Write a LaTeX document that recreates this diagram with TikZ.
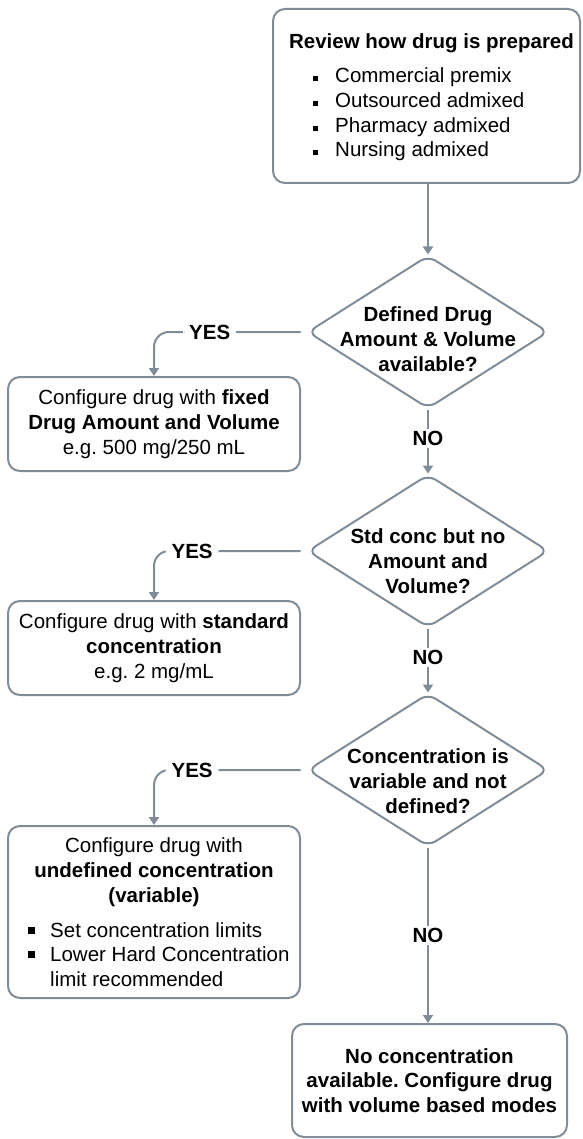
\documentclass[tikz,border=0pt]{standalone}
\usepackage{fontspec}
\setmainfont{Liberation Sans}
\usetikzlibrary{arrows.meta,shapes.geometric}
\definecolor{lc}{RGB}{128,141,153}
\newcommand\sqbA{\makebox[22pt][l]{\rule[1.5pt]{5pt}{5pt}}}
\newcommand\sqbB{\makebox[22pt][l]{\rule[3.5pt]{7pt}{7pt}}}
\newcommand\fsz{\fontsize{20.5pt}{24.7pt}\selectfont\frenchspacing}
\begin{document}
\begin{tikzpicture}[x=1pt,y=-1pt,
  every node/.style={font=\fsz, text=black},
  boxst/.style={draw=lc, line width=2pt, rounded corners=12pt, fill=white, inner sep=2pt, align=center},
  diast/.style={draw=lc, line width=2pt, diamond, rounded corners=9pt, minimum width=241pt, minimum height=153pt, inner sep=0pt},
  conn/.style={draw=lc, line width=2pt, -{Triangle[length=8pt,width=10pt]}},
  lbl/.style={fill=white, font=\fsz\bfseries, inner xsep=6pt, inner ysep=2pt},
  dtxt/.style={align=center, font=\fsz\bfseries, inner sep=0pt},
  ltxt/.style={anchor=base west, align=left, inner sep=0pt}
]
\useasboundingbox (0,0) rectangle (582,1139);

% top box
\node[boxst, minimum width=307pt, minimum height=174pt] (topbox) at (426.5,96) {};
\node[font=\fsz\bfseries, inner sep=0pt] (toptitle) at (431.5,43) {Review how drug is prepared};
\node[ltxt] (toplist) at (313,157) {\sqbA Commercial premix\\\sqbA Outsourced admixed\\\sqbA Pharmacy admixed\\\sqbA Nursing admixed};

% diamonds
\node[diast] (d1) at (428,332) {};
\node[dtxt] (d1t) at (428,339) {Defined Drug\\Amount \& Volume\\available?};
\node[diast] (d2) at (428,551) {};
\node[dtxt] (d2t) at (428,561) {Std conc but no\\Amount and\\Volume?};
\node[diast] (d3) at (428,770) {};
\node[dtxt] (d3t) at (428,781) {Concentration is\\variable and not\\defined?};

% left boxes
\node[boxst, minimum width=292pt, minimum height=94pt] (b1) at (154,424)
  {Configure drug with \textbf{fixed}\\\textbf{Drug Amount and Volume}\\e.g. 500 mg/250 mL};
\node[boxst, minimum width=292pt, minimum height=94pt] (b2) at (154,648)
  {Configure drug with \textbf{standard}\\\textbf{concentration}\\e.g. 2 mg/mL};
\node[boxst, minimum width=292pt, minimum height=172pt] (b3) at (154,912) {};
\node[align=center, inner sep=0pt] (b3t) at (154,872)
  {Configure drug with\\\textbf{undefined concentration}\\\textbf{(variable)}};
\node[ltxt] (b3l) at (28,986.4)
  {\sqbB Set concentration limits\\\sqbB Lower Hard Concentration\\\hspace*{22pt}limit recommended};

% final box
\node[boxst, minimum width=275pt, minimum height=113pt, font=\fsz\bfseries] (fin) at (429.5,1080.5)
  {No concentration\\available. Configure drug\\with volume based modes};

% connectors
\draw[conn] (topbox.south -| d1.north) -- (d1.north);
\draw[conn] (d1.south) -- node[lbl, pos=0.45]{NO} (d2.north);
\draw[conn] (d2.south) -- node[lbl, pos=0.45]{NO} (d3.north);
\draw[conn] (d3.south) -- node[lbl, pos=0.5]{NO} (d3.south |- fin.north);

\draw[conn, rounded corners=15pt] ([xshift=-6pt]d1.west) -- node[lbl, pos=0.62]{YES} (b1.north |- d1.west) -- (b1.north);
\draw[conn, rounded corners=15pt] ([xshift=-6pt]d2.west) -- node[lbl, pos=0.74]{YES} (b2.north |- d2.west) -- (b2.north);
\draw[conn, rounded corners=15pt] ([xshift=-6pt]d3.west) -- node[lbl, pos=0.74]{YES} (b3.north |- d3.west) -- (b3.north);
\end{tikzpicture}
\end{document}
